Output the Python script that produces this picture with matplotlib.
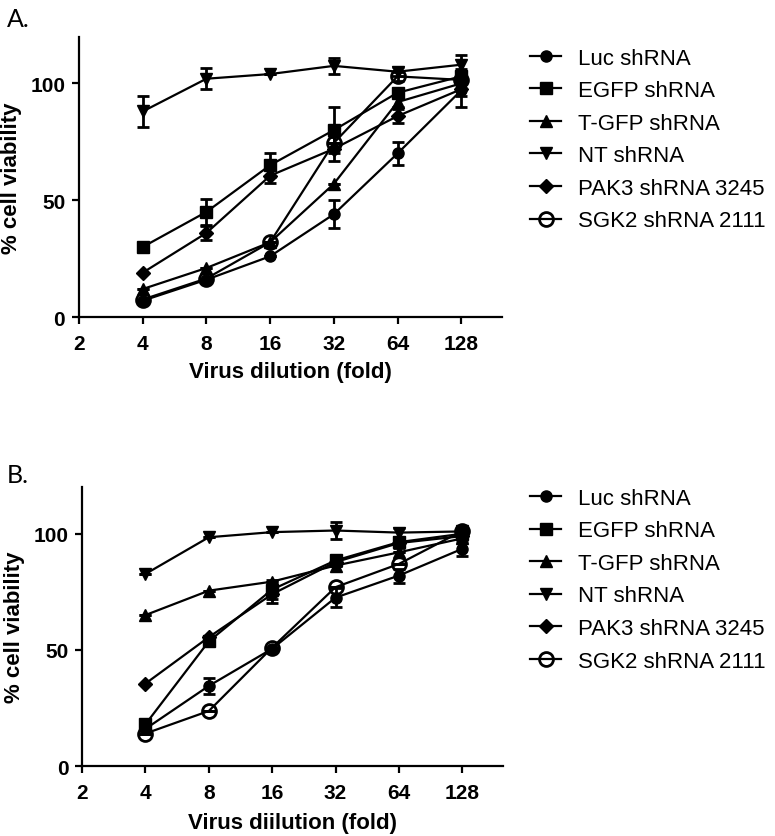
import numpy as np
import matplotlib
matplotlib.use("Agg")
import matplotlib.pyplot as plt
from matplotlib.lines import Line2D
from matplotlib.ticker import FixedLocator, FixedFormatter

plt.rcParams['font.family'] = ['Liberation Sans', 'DejaVu Sans']

# data
dilution = [4, 8, 16, 32, 64, 128]
tick_vals = [2, 4, 8, 16, 32, 64, 128]
labels = ['Luc shRNA', 'EGFP shRNA', 'T-GFP shRNA', 'NT shRNA',
          'PAK3 shRNA 3245', 'SGK2 shRNA 2111']

# panel A
a_luc = [7, 16, 26, 44, 70, 97]
a_egfp = [30, 45, 65, 80, 96, 103]
a_tgfp = [12, 21, 32, 57, 92, 100]
a_nt = [88, 102, 104, 107.5, 105, 108]
a_pak3 = [19, 36, 60.5, 72, 86, 97.5]
a_sgk2 = [7.5, 16.5, 32, 74.5, 103, 101.5]

a_luc_err = [0, 0, 0, 6, 5, 7]
a_egfp_err = [0, 5.5, 5, 10, 0, 3]
a_tgfp_err = [0, 0, 0, 0, 2, 0]
a_nt_err = [6.5, 4.5, 0, 3.5, 2, 4]
a_pak3_err = [0, 3, 3, 5, 3, 3]
a_sgk2_err = [0, 0, 0, 0, 2, 0]

# panel B
b_luc = [16, 34.5, 50.5, 72.5, 82, 93.5]
b_egfp = [18, 53.7, 76, 88.5, 96.4, 100]
b_tgfp = [65, 75.5, 79.4, 86.3, 92, 98]
b_nt = [82.7, 98.5, 100.7, 101.4, 100.5, 101]
b_pak3 = [35.5, 55.5, 74, 87.8, 96, 99]
b_sgk2 = [14, 23.7, 51, 77, 87, 101.2]

b_luc_err = [0, 3.5, 0, 4, 3, 3]
b_egfp_err = [0, 0, 4, 2, 0, 0]
b_tgfp_err = [0, 0, 0, 0, 0, 0]
b_nt_err = [0, 0, 0, 3.5, 2, 0]
b_pak3_err = [0, 0, 4, 0, 2, 0]
b_sgk2_err = [0, 0, 0, 0, 0, 0]

styles = [
    dict(marker='o', ms=8, mfc='black'),
    dict(marker='s', ms=8, mfc='black'),
    dict(marker='^', ms=8, mfc='black'),
    dict(marker='v', ms=8, mfc='black'),
    dict(marker='D', ms=7, mfc='black'),
    dict(marker='o', ms=10, mfc='none', mew=2),
]

fig = plt.figure(figsize=(7.75, 8.37), dpi=100)


def panel(rect, series, errs, xlabel, xpad):
    ax = fig.add_axes(rect)
    for ys, es, st in zip(series, errs, styles):
        ax.errorbar(dilution, ys, yerr=es, color='black', lw=1.6,
                    capsize=4.5, capthick=2, elinewidth=2,
                    mec='black', **st)
    ax.set_xscale('log', base=2)
    ax.set_xlim(2, 200)
    ax.set_ylim(0, 120)
    ax.xaxis.set_major_locator(FixedLocator(tick_vals))
    ax.xaxis.set_major_formatter(FixedFormatter([str(t) for t in tick_vals]))
    ax.xaxis.set_minor_locator(FixedLocator([]))
    ax.set_yticks([0, 50, 100])
    for s in ['top', 'right']:
        ax.spines[s].set_visible(False)
    for s in ['left', 'bottom']:
        ax.spines[s].set_linewidth(1.6)
    ax.tick_params(width=1.6, length=5, labelsize=15)
    ax.tick_params(axis='x', pad=7)
    ax.tick_params(axis='y', pad=5)
    for lab in ax.get_xticklabels() + ax.get_yticklabels():
        lab.set_fontweight('bold')
    ax.set_xlabel(xlabel, fontsize=16, fontweight='bold', labelpad=xpad)
    ax.set_ylabel('% cell viability', fontsize=16, fontweight='bold', labelpad=6)
    return ax


axA = panel([0.102, 0.620, 0.546, 0.335],
            [a_luc, a_egfp, a_tgfp, a_nt, a_pak3, a_sgk2],
            [a_luc_err, a_egfp_err, a_tgfp_err, a_nt_err, a_pak3_err, a_sgk2_err],
            'Virus dilution (fold)', 6)
axB = panel([0.106, 0.0836, 0.543, 0.333],
            [b_luc, b_egfp, b_tgfp, b_nt, b_pak3, b_sgk2],
            [b_luc_err, b_egfp_err, b_tgfp_err, b_nt_err, b_pak3_err, b_sgk2_err],
            'Virus diilution (fold)', 7.5)

handles = [Line2D([], [], color='black', lw=1.6, mec='black', **st) for st in styles]
for y in [0.942, 0.416]:
    fig.legend(handles, labels, loc='upper left', bbox_to_anchor=(0.684, y),
               frameon=False, fontsize=16, handlelength=1.4, handletextpad=0.75,
               labelspacing=0.52, borderpad=0, borderaxespad=0)

fig.text(0.009, 0.977, 'A.', fontsize=18, family='Lato', va='center')
fig.text(0.009, 0.432, 'B.', fontsize=18, family='Lato', va='center')

fig.savefig('out.png', dpi=100)
